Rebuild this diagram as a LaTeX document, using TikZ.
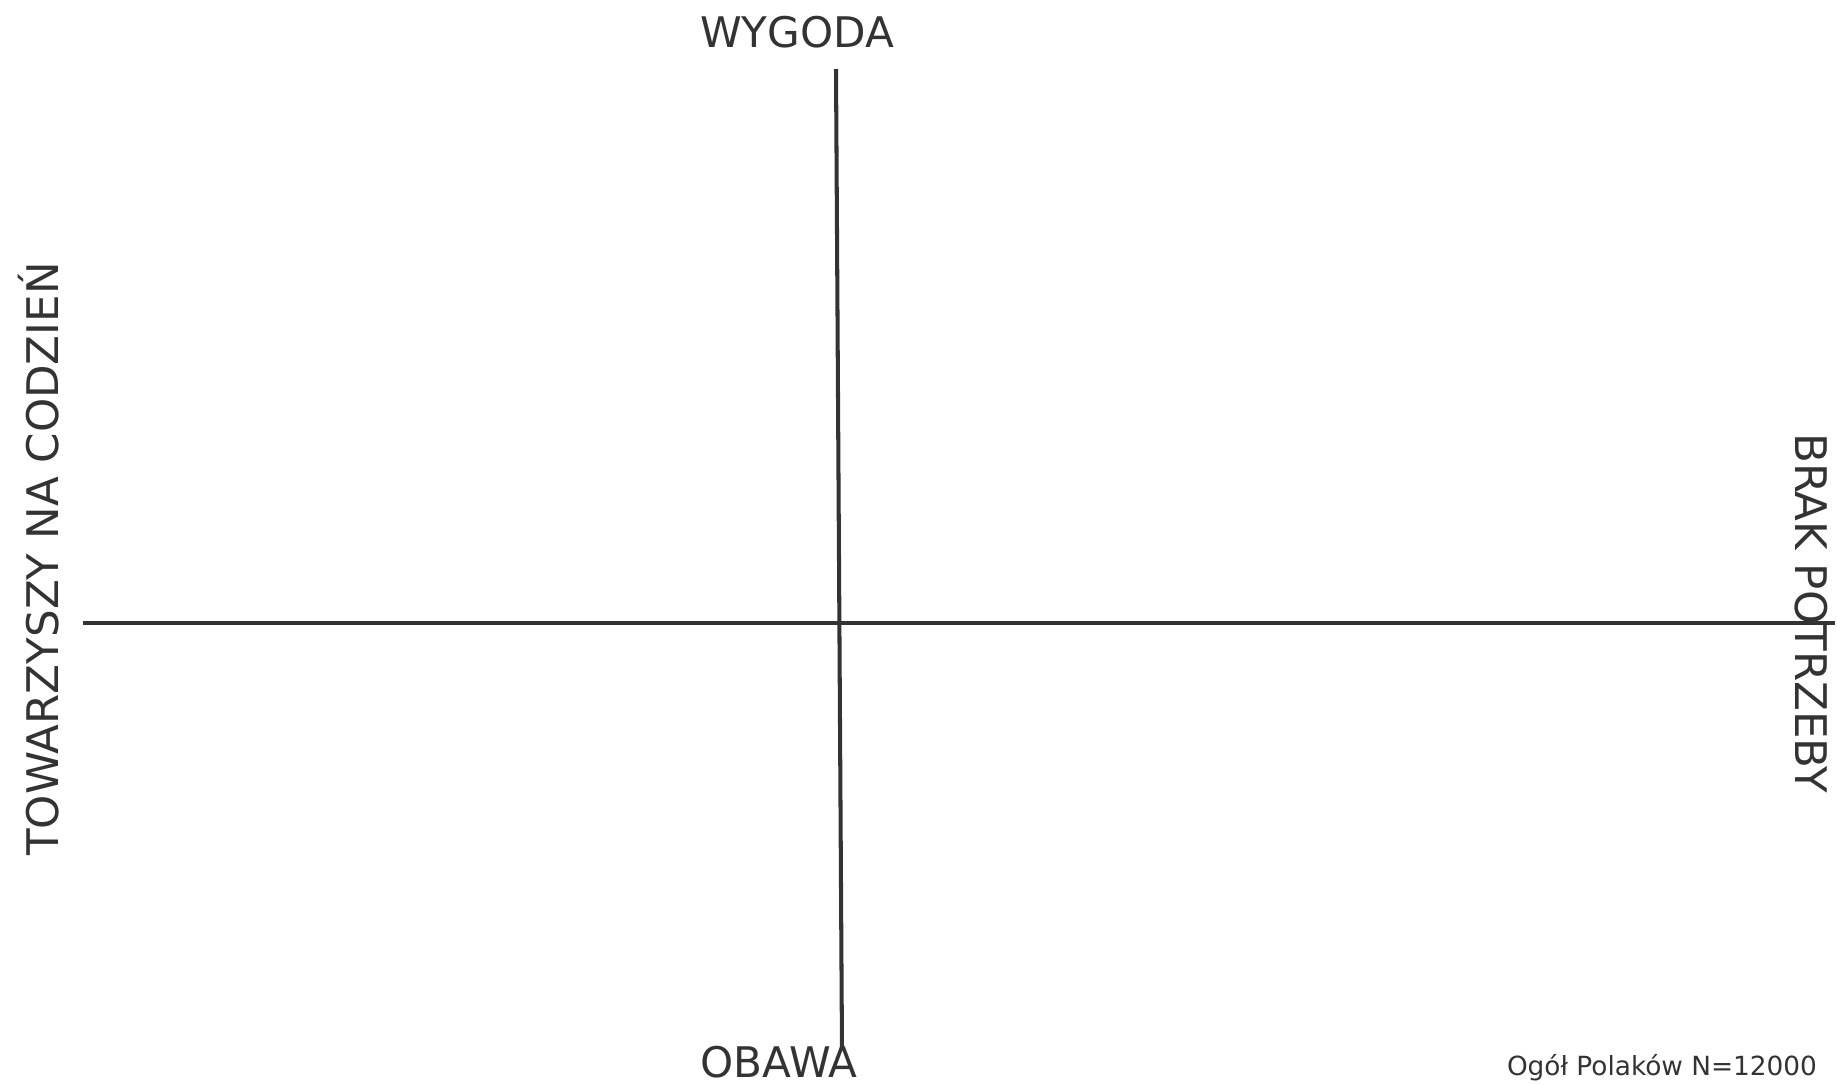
\documentclass[tikz,border=0pt]{standalone}
\usepackage{fontspec}
\setmainfont{DejaVu Sans}
\usepackage{tikz}
\usetikzlibrary{positioning}
\definecolor{Grafit}{HTML}{333333}

\begin{document}
\begin{tikzpicture}[
  x=0.02cm,y=-0.02cm,
  os/.style={draw=Grafit,line width=2.3pt},
  etykieta/.style={text=Grafit,inner sep=0pt,font=\fontsize{24}{28}\selectfont},
  bok/.style={etykieta,font=\fontsize{24.8}{28}\selectfont},
  opis/.style={text=Grafit,inner sep=0pt,font=\fontsize{15}{18}\selectfont}
]
  \useasboundingbox (0,0) rectangle (1837,1085);
  % osie
  \coordinate (gora) at (836,69);
  \coordinate (dol) at (842,1050);
  \coordinate (lewo) at (83,623);
  \coordinate (prawo) at (1835,623);
  \draw[os] (gora)--(dol);
  \draw[os] (lewo)--(prawo);

  \node[etykieta] (wygoda) at (797,32) {WYGODA};
  \node[etykieta] (obawa) at (779,1062) {OBAWA};
  \node[bok,rotate=90] (towarzysze) at (39,559) {TOWARZYSZY NA CODZIEŃ};
  \node[bok,rotate=-90] (brak) at (1811,613) {BRAK POTRZEBY};
  \node[opis] (proba) at (1662,1068) {Ogół Polaków N=12000};
\end{tikzpicture}
\end{document}
